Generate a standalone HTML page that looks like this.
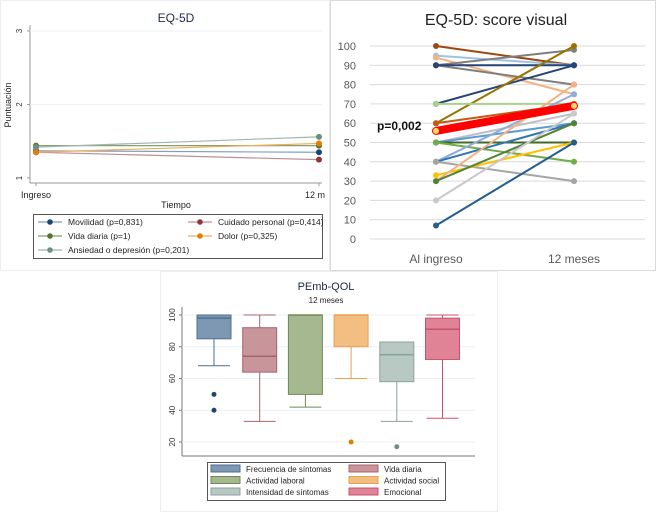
<!DOCTYPE html>
<html><head><meta charset="utf-8"><style>
body{margin:0;background:#fff;font-family:"Liberation Sans",sans-serif}
svg{display:block}
</style></head><body>
<svg id="root" width="657" height="512" xmlns="http://www.w3.org/2000/svg" font-family="Liberation Sans, sans-serif">
<rect x="0" y="0" width="657" height="512" fill="#fff"/>
<rect x="0.5" y="0.5" width="329" height="270" fill="#fff" stroke="#eeeeee"/>
<rect x="330.5" y="0.5" width="325" height="270" fill="#fff" stroke="#d9d9d9"/>
<rect x="160.5" y="271.5" width="337" height="240" fill="#fff" stroke="#eeeeee"/>
<g id="p1"></g>
<g id="p2"></g>
<g id="p3"></g>
</svg>
<script>
// ---------- Chart 1: EQ-5D ----------
const c1Cats = ["Ingreso", "12 m"];
const c1Names = ["Movilidad (p=0,831)", "Cuidado personal (p=0,414)", "Vida diaria (p=1)", "Dolor (p=0,325)", "Ansiedad o depresión (p=0,201)"];
const c1Start = [1.37, 1.35, 1.44, 1.35, 1.42];
const c1End = [1.35, 1.25, 1.44, 1.47, 1.56];
const c1Ticks = [1, 2, 3];
// ---------- Chart 2: EQ-5D visual ----------
const c2Cats = ["Al ingreso", "12 meses"];
const c2Start = [100, 95, 94, 90, 90, 90, 70, 60, 70, 60, 50, 50, 50, 50, 40, 40, 40, 33, 30, 30, 20, 7];
const c2End = [90, 90, 75, 98, 80, 90, 90, 100, 70, 70, 65, 60, 50, 40, 75, 60, 30, 50, 80, 60, 65, 50];
const c2Colors = ["#9e480e","#9dc3e6","#f4b183","#7f7f7f","#7f7f7f","#264478","#264478","#997300","#a9d18e","#c55a11","#bfbfbf","#5b9bd5","#43682b","#70ad47","#8faadc","#2e75b6","#a5a5a5","#ffc000","#f4b183","#548235","#c9c9c9","#255e91"];
const c2MeanStart = 56, c2MeanEnd = 69;
const c2Ticks = [0,10,20,30,40,50,60,70,80,90,100];
// ---------- Chart 3: PEmb-QOL ----------
const c3Names = ["Frecuencia de síntomas","Vida diaria","Actividad laboral","Actividad social","Intensidad de síntomas","Emocional"];
const c3Min = [68, 33, 42, 60, 33, 35];
const c3Q1 = [85, 64, 50, 80, 58, 72];
const c3Med = [98, 74, 100, 100, 75, 91];
const c3Q3 = [100, 92, 100, 100, 83, 98];
const c3Max = [100, 100, 100, 100, 83, 100];
const c3Outliers = [[50, 40], [], [], [20], [17], []];
const c3Ticks = [20, 40, 60, 80, 100];

const NS = "http://www.w3.org/2000/svg";
function mk(parent, tag, attrs, text){const e=document.createElementNS(NS,tag);for(const k in attrs)e.setAttribute(k,attrs[k]);if(text!==undefined)e.textContent=text;parent.appendChild(e);return e;}

// Chart 1
(function(){
  const g=document.getElementById('p1');
  const y=v=>178-(v-1)*73.5;
  const x=i=>36+i*283;
  const cols=["#1a476f","#90353b","#55752f","#e37e00","#6e8e84"];
  const lcols=["#7f9fbf","#c08f93","#85a06a","#f0ad5c","#9fb5ad"];
  mk(g,'line',{x1:30,y1:25,x2:30,y2:183,stroke:'#999'});
  mk(g,'line',{x1:30,y1:183,x2:322,y2:183,stroke:'#999'});
  c1Ticks.forEach(t=>{
    if(t>1){const gl=mk(g,'line',{x1:30,y1:y(t),x2:322,y2:y(t),stroke:'#eaf0f4'});}
    mk(g,'line',{x1:27,y1:y(t),x2:30,y2:y(t),stroke:'#999'});
    const tl=mk(g,'text',{x:22,y:y(t),'font-size':8,fill:'#333','text-anchor':'middle',transform:`rotate(-90 22 ${y(t)})`},String(t));
    
  });
  c1Cats.forEach((c,i)=>{
    mk(g,'line',{x1:x(i),y1:183,x2:x(i),y2:186,stroke:'#999'});
    const tl=mk(g,'text',{x:x(i)+(i?-4:0),y:198,'font-size':9,fill:'#222','text-anchor':'middle'},c);
    
  });
  const t=mk(g,'text',{x:176,y:22,'font-size':12,fill:'#1e2a44','text-anchor':'middle'},'EQ-5D');
  
  const xt=mk(g,'text',{x:176,y:208,'font-size':9,fill:'#222','text-anchor':'middle'},'Tiempo');
  
  const yt=mk(g,'text',{x:11,y:105,'font-size':9,fill:'#222','text-anchor':'middle',transform:'rotate(-90 11 105)'},'Puntuación');
  
  c1Start.forEach((s,i)=>{
    const l=mk(g,'line',{x1:x(0),y1:y(s),x2:x(1),y2:y(c1End[i]),stroke:lcols[i],'stroke-width':1.2});
    
    [s,c1End[i]].forEach((v,j)=>{const p=mk(g,'circle',{cx:x(j),cy:y(v),r:3,fill:cols[i]});});
  });
  const lg=mk(g,'rect',{x:33.5,y:214.5,width:289,height:44,fill:'#fff',stroke:'#555'});
  
  c1Names.forEach((n,i)=>{
    const lx=i%2?188:38, ly=225+Math.floor(i/2)*14;
    mk(g,'line',{x1:lx,y1:ly-3,x2:lx+24,y2:ly-3,stroke:lcols[i],'stroke-width':1.2});
    mk(g,'circle',{cx:lx+12,cy:ly-3,r:2.8,fill:cols[i]});
    const e=mk(g,'text',{x:lx+30,y:ly,'font-size':8.5,fill:'#222'},n);
    
  });
})();

// Chart 2
(function(){
  const g=document.getElementById('p2');
  const y=v=>239-v*1.93;
  const x=i=>436+i*138;
  c2Ticks.forEach(t=>{
    const gl=mk(g,'line',{x1:370,y1:y(t),x2:645,y2:y(t),stroke:'#d9d9d9'});
    
    const tl=mk(g,'text',{x:356,y:y(t)+4,'font-size':11,fill:'#595959','text-anchor':'end'},String(t));
    
  });
  c2Cats.forEach((c,i)=>{
    const tl=mk(g,'text',{x:x(i),y:263,'font-size':12,fill:'#595959','text-anchor':'middle'},c);
    
  });
  const t=mk(g,'text',{x:496,y:25,'font-size':16,fill:'#222','text-anchor':'middle'},'EQ-5D: score visual');
  
  c2Start.forEach((s,i)=>{
    const l=mk(g,'line',{x1:x(0),y1:y(s),x2:x(1),y2:y(c2End[i]),stroke:c2Colors[i],'stroke-width':2});
    
    [s,c2End[i]].forEach((v,j)=>{const p=mk(g,'circle',{cx:x(j),cy:y(v),r:3,fill:c2Colors[i]});});
  });
  const m=mk(g,'line',{x1:x(0),y1:y(c2MeanStart),x2:x(1),y2:y(c2MeanEnd),stroke:'#ff0000','stroke-width':8,'stroke-linecap':'round'});
  
  [c2MeanStart,c2MeanEnd].forEach((v,j)=>{const p=mk(g,'circle',{cx:x(j),cy:y(v),r:3,fill:'#ffd966'});});
  const pv=mk(g,'text',{x:377,y:y(c2MeanStart)-1,'font-size':12,'font-weight':'bold',fill:'#111'},'p=0,002');
  
})();

// Chart 3
(function(){
  const g=document.getElementById('p3');
  const y=v=>315+(100-v)*1.5875;
  const x=i=>214+i*45.7;
  const fills=["#7e97b3","#c8959a","#a6b88f","#f2be82","#b8c8c2","#e18396"];
  const strokes=["#4f6f90","#a8646c","#6f8a55","#e8a04c","#8aa39a","#c8506c"];
  const dots=["#1a476f","#90353b","#55752f","#e37e00","#6e8e84","#c10534"];
  mk(g,'line',{x1:182,y1:307,x2:182,y2:456,stroke:'#777'});
  mk(g,'line',{x1:182,y1:456,x2:475,y2:456,stroke:'#777'});
  c3Ticks.forEach(t=>{
    const gl=mk(g,'line',{x1:182,y1:y(t),x2:475,y2:y(t),stroke:'#eaf0f4'});
    
    mk(g,'line',{x1:179,y1:y(t),x2:182,y2:y(t),stroke:'#777'});
    const tl=mk(g,'text',{x:175,y:y(t),'font-size':8,fill:'#333','text-anchor':'middle',transform:`rotate(-90 175 ${y(t)})`},String(t));
    
  });
  const t=mk(g,'text',{x:326,y:290,'font-size':11,fill:'#1e2a44','text-anchor':'middle'},'PEmb-QOL');
  
  const st=mk(g,'text',{x:326,y:303,'font-size':8,fill:'#222','text-anchor':'middle'},'12 meses');
  
  const bw=34;
  c3Names.forEach((n,i)=>{
    const cx=x(i);
    mk(g,'line',{x1:cx,y1:y(c3Max[i]),x2:cx,y2:y(c3Q3[i]),stroke:strokes[i]});
    mk(g,'line',{x1:cx,y1:y(c3Q1[i]),x2:cx,y2:y(c3Min[i]),stroke:strokes[i]});
    mk(g,'line',{x1:cx-16,y1:y(c3Min[i]),x2:cx+16,y2:y(c3Min[i]),stroke:strokes[i]});
    mk(g,'line',{x1:cx-16,y1:y(c3Max[i]),x2:cx+16,y2:y(c3Max[i]),stroke:strokes[i]});
    const b=mk(g,'rect',{x:cx-bw/2,y:y(c3Q3[i]),width:bw,height:y(c3Q1[i])-y(c3Q3[i]),fill:fills[i],stroke:strokes[i]});
    
    mk(g,'line',{x1:cx-bw/2,y1:y(c3Med[i]),x2:cx+bw/2,y2:y(c3Med[i]),stroke:strokes[i],'stroke-width':1.5});
    c3Outliers[i].forEach(o=>{const p=mk(g,'circle',{cx:cx,cy:y(o),r:2.5,fill:dots[i]});});
  });
  const lg=mk(g,'rect',{x:207.5,y:462.5,width:238,height:38,fill:'#fff',stroke:'#555'});
  
  c3Names.forEach((n,i)=>{
    const lx=i%2?349:211, ly=465+Math.floor(i/2)*11.5;
    mk(g,'rect',{x:lx,y:ly,width:29,height:7,fill:fills[i],stroke:strokes[i]});
    const e=mk(g,'text',{x:lx+35,y:ly+7,'font-size':8,fill:'#222'},n);
    
  });
})();
</script>
</body></html>
